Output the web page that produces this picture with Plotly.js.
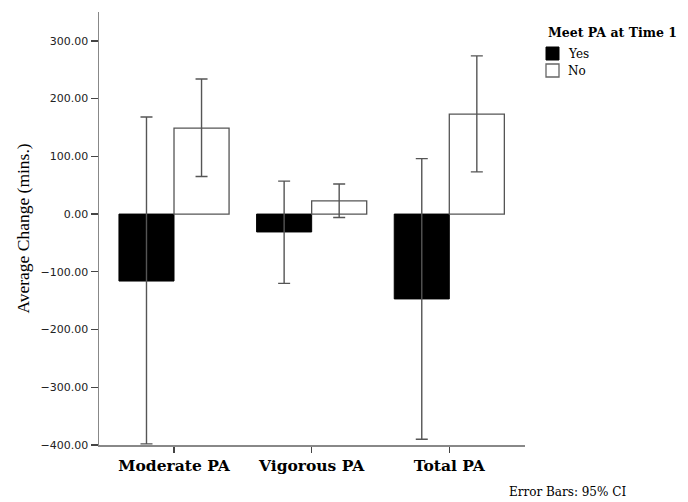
<!DOCTYPE html>
<html>
<head>
<meta charset="utf-8">
<script src="https://cdn.plot.ly/plotly-3.0.1.min.js"></script>
<style>html,body{margin:0;padding:0;background:#fff;}#chart{width:688px;height:502px;}</style>
</head>
<body>
<div id="chart"></div>
<script>
const categories = ["Moderate PA", "Vigorous PA", "Total PA"];
const yesMean = [-116, -31, -147];
const yesUpper = [168, 57, 96];
const yesLower = [-398, -120, -390];
const noMean = [149, 23, 173];
const noUpper = [234, 52, 274];
const noLower = [65, -6, 73];
const yTickVals = [-400, -300, -200, -100, 0, 100, 200, 300];
const legendTitle = "Meet PA at Time 1";
const seriesNames = ["Yes", "No"];
const footnote = "Error Bars: 95% CI";

function errUp(m, u) { return m.map((v, i) => u[i] - v); }
function errDown(m, l) { return m.map((v, i) => v - l[i]); }

const W = 688, H = 502;
const M = {l: 99, r: 163, t: 12, b: 57};
const PW = W - M.l - M.r, PH = H - M.t - M.b;
const px = x => (x - M.l) / PW;
const py = y => (H - M.b - y) / PH;

const errStyle = {type: 'data', symmetric: false, color: '#555', thickness: 1.4, width: 6};

const traces = [
  {
    type: 'bar', name: seriesNames[0], x: categories, y: yesMean, showlegend: false,
    marker: {color: '#000', line: {color: '#000', width: 1}},
    error_y: Object.assign({array: errUp(yesMean, yesUpper), arrayminus: errDown(yesMean, yesLower)}, errStyle)
  },
  {
    type: 'bar', name: seriesNames[1], x: categories, y: noMean, showlegend: false,
    marker: {color: '#fff', line: {color: '#555', width: 1.3}},
    error_y: Object.assign({array: errUp(noMean, noUpper), arrayminus: errDown(noMean, noLower)}, errStyle)
  }
];

const serif = 'DejaVu Serif';

const layout = {
  width: W, height: H,
  margin: M,
  paper_bgcolor: '#fff', plot_bgcolor: '#fff',
  barmode: 'group', bargap: 0.2, bargroupgap: 0,
  showlegend: false,
  xaxis: {
    type: 'category', range: [-0.545, 2.55],
    showline: true, linecolor: '#888', linewidth: 1.5,
    ticks: 'outside', ticklen: 6, tickcolor: '#444', tickwidth: 1.3,
    showgrid: false, zeroline: false,
    tickfont: {family: serif, size: 15.5, color: '#000', weight: 'bold'}
  },
  yaxis: {
    range: [-400, 350],
    tickvals: yTickVals, tickformat: '.2f',
    showline: true, linecolor: '#888', linewidth: 1.5,
    ticks: 'outside', ticklen: 7, tickcolor: '#444', tickwidth: 1.3,
    showgrid: false, zeroline: false,
    tickfont: {family: 'DejaVu Sans', size: 11, color: '#222'},
    title: {text: 'Average Change (mins.)', font: {family: 'Liberation Serif', size: 17.5, color: '#000'}, standoff: 6}
  },
  shapes: [
    {type: 'rect', xref: 'paper', yref: 'paper', x0: px(546), x1: px(559), y0: py(60), y1: py(47),
     fillcolor: '#000', line: {color: '#000', width: 1}},
    {type: 'rect', xref: 'paper', yref: 'paper', x0: px(546), x1: px(559), y0: py(77), y1: py(64),
     fillcolor: '#fff', line: {color: '#666', width: 1.3}}
  ],
  annotations: [
    {text: '<b>' + legendTitle + '</b>', xref: 'paper', yref: 'paper', x: px(546), y: py(33), xanchor: 'left', yanchor: 'middle', showarrow: false,
     font: {family: serif, size: 12.5, color: '#000'}},
    {text: seriesNames[0], xref: 'paper', yref: 'paper', x: px(566), y: py(54), xanchor: 'left', yanchor: 'middle', showarrow: false,
     font: {family: serif, size: 12, color: '#000'}},
    {text: seriesNames[1], xref: 'paper', yref: 'paper', x: px(566), y: py(71), xanchor: 'left', yanchor: 'middle', showarrow: false,
     font: {family: serif, size: 12, color: '#000'}},
    {text: footnote, xref: 'paper', yref: 'paper', x: px(567), y: py(492), xanchor: 'center', yanchor: 'middle', showarrow: false,
     font: {family: serif, size: 12, color: '#000'}}
  ]
};

Plotly.newPlot('chart', traces, layout, {displayModeBar: false, staticPlot: true});
</script>
</body>
</html>
